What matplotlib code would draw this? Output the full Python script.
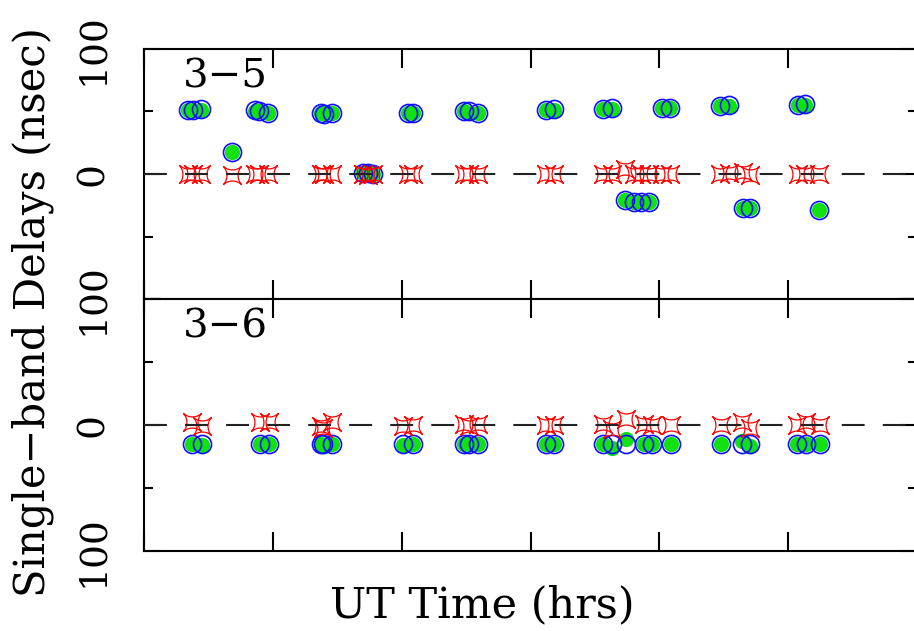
import numpy as np
import matplotlib.pyplot as plt
from matplotlib.path import Path

plt.rcParams['font.family'] = 'DejaVu Serif'

# baseline 3-5 : scan times (hrs), delays (nsec)
t35 = [0.34, 0.38, 0.44, 0.68, 0.86, 0.89, 0.96, 1.37, 1.40, 1.46, 1.70, 1.74, 1.78,
       2.05, 2.09, 2.48, 2.52, 2.59, 3.12, 3.18, 3.56, 3.63, 3.73, 3.80, 3.86, 3.92,
       4.02, 4.08, 4.47, 4.54, 4.65, 4.70, 5.08, 5.13, 5.24]
grn35 = [51, 51, 51, 18, 50, 50, 49, 49, 49, 49, 1, 1, 0, 49, 49, 50, 49, 49, 51, 51,
         52, 52, -21, -22, -22, -22, 53, 53, 54, 54, -27, -27, 55, 55, -29]
blu35 = [51, 51, 52, 18, 51, 50, 49, 49, 48, 49, 1, 1, 0, 49, 49, 50, 50, 49, 51, 52,
         52, 53, -21, -22, -22, -22, 53, 53, 54, 55, -27, -27, 55, 56, -29]
red35 = [0, 0, 0, -1, 0, 0, 0, 0, 0, 0, 0, -1, 0, 0, 0, 0, 0, 0, 0, 0,
         0, 0, 4, 0, 0, 0, 0, 0, 0, 1, 2, -1, 0, 0, 0]

# baseline 3-6
t36 = [0.37, 0.45, 0.90, 0.97, 1.37, 1.39, 1.46, 2.01, 2.09, 2.48, 2.52, 2.59, 3.12,
       3.18, 3.56, 3.63, 3.74, 3.88, 3.94, 4.09, 4.48, 4.64, 4.70, 5.07, 5.14, 5.25]
grn36 = [-15, -16, -15, -15, -15, -16, -15, -16, -15, -15, -15, -15, -15, -15,
         -15, -18, -11, -15, -15, -15, -15, -13, -17, -15, -15, -15]
blu36 = [-15, -15, -15, -15, -15, -15, -15, -15, -15, -15, -15, -15, -15, -15,
         -15, -15, -15, -15, -15, -15, -15, -15, -15, -15, -15, -15]
red36 = [2, -1, 2, 2, -1, -2, 2, -1, 0, 1, -1, 1, 0, 0,
         1, -3, 5, 1, 0, 0, 0, 2, -2, 0, 2, 0]

yticks = [-100, 0, 100]
ylabels35 = ['100', '0', '100']
ylabels36 = ['100', '0', '']

W, H = 914, 631
fig = plt.figure(figsize=(W / 100, H / 100), dpi=100)
ax1 = fig.add_axes([144 / W, 1 - 299 / H, 773 / W, 250 / H])
ax2 = fig.add_axes([144 / W, 1 - 551 / H, 773 / W, 252 / H])

# four-pointed star marker, points on the diagonals
a = np.linspace(0, 2 * np.pi, 81)
c, s = np.cos(a), np.sin(a)
p = 3.4
xs = np.sign(c) * np.abs(c) ** p
ys = np.sign(s) * np.abs(s) ** p
r45 = np.sqrt(0.5)
star = Path(np.column_stack([r45 * (xs - ys), r45 * (xs + ys)]))

panels = [(ax1, t35, grn35, blu35, red35, ylabels35, '3\u22125', 87),
          (ax2, t36, grn36, blu36, red36, ylabels36, '3\u22126', 337)]

for ax, t, g, b, r, ylab, name, ybase in panels:
    ax.plot(t, g, 'o', ls='none', color='#11e011', ms=11, mec='none', zorder=2)
    ax.plot(t, b, 'o', ls='none', mfc='none', mec='#1010ff', ms=13, mew=1.2, zorder=3)
    ax.plot(t, r, marker=star, ls='none', mfc='none', mec='red', ms=13, mew=0.9, zorder=4)
    ax.axhline(0, color='#222222', lw=1.5, dashes=(11, 8.7), zorder=5)
    ax.set_xlim(0, 6)
    ax.set_ylim(-100, 100)
    ax.set_xticks(range(7))
    ax.set_xticklabels([])
    ax.set_yticks(yticks, ylab)
    ax.set_yticks([-50, 50], minor=True)
    ax.tick_params(which='both', direction='in', top=True, right=True, width=1.5)
    ax.tick_params(axis='x', which='major', length=14)
    ax.tick_params(axis='y', which='major', length=12, labelrotation=90,
                   labelsize=27, pad=24)
    ax.tick_params(axis='y', which='minor', length=6.5)
    for lab in ax.get_yticklabels():
        lab.set_va('center')
    for sp in ax.spines.values():
        sp.set_linewidth(1.5)
    fig.text(183 / W, 1 - ybase / H, name, fontsize=29, va='baseline')

fig.text(482 / W, 1 - 605 / H, 'UT Time (hrs)', ha='center', va='center', fontsize=31)
fig.text(33 / W, 1 - 312 / H, 'Single\u2212band Delays (nsec)', rotation=90,
         ha='center', va='center', fontsize=30)

fig.savefig('out.png', dpi=100)
